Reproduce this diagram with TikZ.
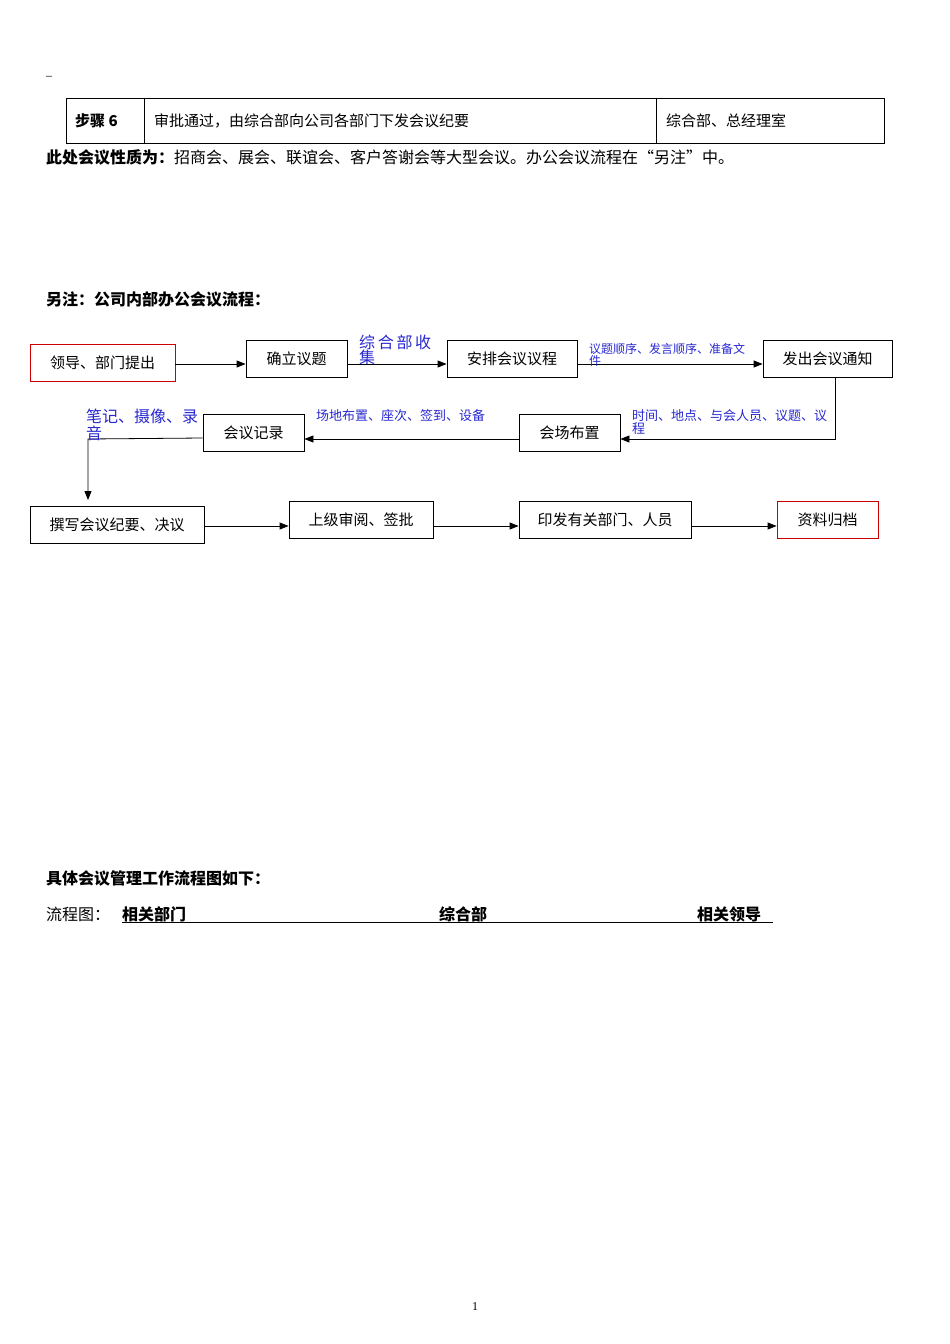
\documentclass[tikz,border=0pt]{standalone}
\usepackage{fontspec}
\setmainfont{Liberation Serif}
\newfontfamily\cjk{Noto Sans CJK SC}
\usetikzlibrary{arrows.meta}
\definecolor{lblue}{RGB}{40,40,210}
\begin{document}
\begin{tikzpicture}[x=1pt,y=-1pt,
 bx/.style={draw,thick,minimum height=37pt,inner sep=2pt,font=\cjk\fontsize{15}{15}\selectfont},
 rbx/.style={bx,draw=red!80!black},
 lab/.style={anchor=north west,inner sep=0pt,text=lblue,font=\cjk\fontsize{14}{15}\selectfont,align=left},
 ar/.style={thick,-{Triangle[length=9pt,width=7pt]}},
 tx/.style={anchor=west,inner sep=0pt,font=\cjk\fontsize{16}{16}\selectfont}]
\path[use as bounding box,fill=white] (0,0) rectangle (950,1344);
\node[tx,font=\fontsize{12}{12}\selectfont] (dash) at (46,78) {–};
\draw (66,98) rectangle (884,143) (144,98)--(144,143) (656,98)--(656,143);
\node[tx,font=\cjk\bfseries\fontsize{15}{15}\selectfont] (t1) at (75,121) {步骤 6};
\node[tx,font=\cjk\fontsize{15}{15}\selectfont] (t2) at (154,121) {审批通过，由综合部向公司各部门下发会议纪要};
\node[tx,font=\cjk\fontsize{15}{15}\selectfont] (t3) at (666,121) {综合部、总经理室};
\node[tx] (p1) at (46,157) {\textbf{此处会议性质为：}招商会、展会、联谊会、客户答谢会等大型会议。办公会议流程在“另注”中。};
\node[tx,font=\cjk\bfseries\fontsize{16}{16}\selectfont] (p2) at (46,299) {另注：公司内部办公会议流程：};
\node[rbx,minimum width=145pt] (A) at (102.5,362.5) {领导、部门提出};
\node[bx,minimum width=101pt] (B) at (296.5,358.5) {确立议题};
\node[bx,minimum width=130pt] (C) at (512,358.5) {安排会议议程};
\node[bx,minimum width=129pt] (D) at (827.5,358.5) {发出会议通知};
\node[bx,minimum width=101pt] (E) at (569.5,433) {会场布置};
\node[bx,minimum width=101pt] (F) at (253.5,433) {会议记录};
\node[bx,minimum width=174pt] (G) at (117,525) {撰写会议纪要、决议};
\node[bx,minimum width=144pt] (H) at (361,519.5) {上级审阅、签批};
\node[bx,minimum width=172pt] (I) at (605,519.5) {印发有关部门、人员};
\node[rbx,minimum width=101pt] (J) at (827.5,520) {资料归档};
\draw[ar] (A.east|-0,364) -- (B.west|-0,364);
\draw[ar] (B.east|-0,364) -- (C.west|-0,364);
\draw[ar] (C.east|-0,364) -- (D.west|-0,364);
\draw[ar] (D.south-|835,0) -- (835,439) -- (E.east|-0,439);
\draw[ar] (E.west|-0,439) -- (F.east|-0,439);
\coordinate (g1) at (88,500);
\draw[ar] (F.west|-0,438) -- (88,439) -- (g1);
\draw[ar] (G.east|-0,526) -- (H.west|-0,526);
\draw[ar] (H.east|-0,526) -- (I.west|-0,526);
\draw[ar] (I.east|-0,526) -- (J.west|-0,526);
\node[lab,font=\cjk\fontsize{16}{15}\selectfont] (l1) at (359,335) {综\,合\,部\,收\\集};
\node[lab,font=\cjk\fontsize{12}{11}\selectfont] (l2) at (589,343) {议题顺序、发言顺序、准备文\\件};
\node[lab,font=\cjk\fontsize{13}{13}\selectfont] (l3) at (632,409) {时间、地点、与会人员、议题、议\\程};
\node[lab,font=\cjk\fontsize{13}{13}\selectfont] (l4) at (316,409) {场地布置、座次、签到、设备};
\node[lab,font=\cjk\fontsize{16}{17}\selectfont] (l5) at (86,409) {笔记、摄像、录\\音};
\node[tx,font=\cjk\bfseries\fontsize{16}{16}\selectfont] (p3) at (46,878) {具体会议管理工作流程图如下：};
\node[tx] (p4) at (46,914) {流程图：};
\node[tx,font=\cjk\bfseries\fontsize{16}{16}\selectfont] (h1) at (122,914) {相关部门};
\node[tx,font=\cjk\bfseries\fontsize{16}{16}\selectfont] (h2) at (439,914) {综合部};
\node[tx,font=\cjk\bfseries\fontsize{16}{16}\selectfont] (h3) at (697,914) {相关领导};
\draw (122,922) -- (773,922);
\node[font=\fontsize{12}{12}\selectfont] (pg) at (475,1307) {1};
\end{tikzpicture}
\end{document}
